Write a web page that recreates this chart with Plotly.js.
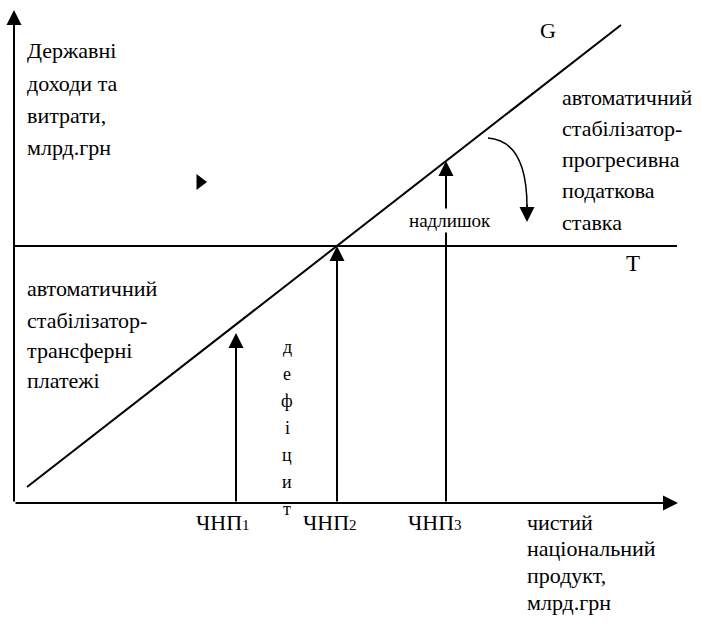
<!DOCTYPE html>
<html>
<head>
<meta charset="utf-8">
<script src="https://cdn.plot.ly/plotly-3.0.1.min.js"></script>
<style>html,body{margin:0;padding:0;background:#fff;}</style>
</head>
<body>
<div id="chart"></div>
<script>
// ---- data (diagram units; origin at the axes' intersection) ----
var gLineX = [13, 607];          // government spending/revenue line G
var gLineY = [16, 478];
var tLevelX = [0, 663];          // level line T
var tLevelY = [257, 257];
var nnpLabels = ["ЧНП<span style='font-size:15px'>1</span>", "ЧНП<span style='font-size:15px'>2</span>", "ЧНП<span style='font-size:15px'>3</span>"];
var nnpX = [222, 323, 432];      // positions of ЧНП1..3
var nnpTop = [170, 257, 342];    // heights reached by the vertical arrows
var nnpLabelX = [209, 316, 421];
var yAxisTop = 493;
var xAxisEnd = 664;
var markerX = [186];
var markerY = [321];
var yTitleLines = ["Державні", "доходи та", "витрати,", "млрд.грн"];
var xTitleLines = ["чистий", "національний", "продукт,", "млрд.грн"];
var leftNoteLines = ["автоматичний", "стабілізатор-", "трансферні", "платежі"];
var rightNoteLines = ["автоматичний", "стабілізатор-", "прогресивна", "податкова", "ставка"];
var deficitLetters = ["д", "е", "ф", "і", "ц", "и", "т"];

var FONT = "Liberation Serif";
var annotations = [];
function txt(t, x, y, size, xanchor, extra) {
  var a = {text: t, x: x, y: y, xref: 'x', yref: 'y', showarrow: false,
    xanchor: xanchor || 'left', yanchor: 'middle',
    font: {family: FONT, size: size, color: '#000'}};
  if (extra) for (var k in extra) a[k] = extra[k];
  annotations.push(a);
}
function arrow(x0, y0, x1, y1, w, s) {
  annotations.push({x: x1, y: y1, ax: x0, ay: y0, xref: 'x', yref: 'y', axref: 'x', ayref: 'y',
    showarrow: true, arrowhead: 2, arrowsize: s || 1.5, arrowwidth: w || 2, arrowcolor: '#000',
    standoff: 0, text: ''});
}
// axes
arrow(0, 0, 0, yAxisTop, 2, 1.5);
arrow(0, 0, xAxisEnd, 0, 2, 1.5);
// vertical arrows
for (var i = 0; i < nnpX.length; i++) {
  arrow(nnpX[i], 0, nnpX[i], nnpTop[i], 2, 1.5);
  txt(nnpLabels[i], nnpLabelX[i], -19, 22, 'center');
}
// curved-arrow head
arrow(513, 300, 513, 281, 1.5, 2);

// text
txt("G", 534, 473, 22, 'center');
txt("T", 619, 240, 23, 'center');
var yT = [453, 420, 388, 356];
yTitleLines.forEach(function (t, k) { txt(t, 11, yT[k], 22); });
var lN = [215, 183, 153, 123];
leftNoteLines.forEach(function (t, k) { txt(t, 11, lN[k], 22); });
var rN = [406, 375, 344, 313, 281];
rightNoteLines.forEach(function (t, k) { txt(t, 546, rN[k], 22); });
var xT = [-19, -45, -72, -99];
xTitleLines.forEach(function (t, k) { txt(t, 511, xT[k], 22); });
var dY = [156, 129, 102, 75, 48, 21, -6];
deficitLetters.forEach(function (t, k) { txt(t, 273, dY[k], 18, 'center'); });
txt("надлишок", 436, 283, 19, 'center', {bgcolor: '#fff', borderpad: 1});

var traces = [
  {x: gLineX, y: gLineY, mode: 'lines', line: {color: '#000', width: 2}, hoverinfo: 'skip'},
  {x: tLevelX, y: tLevelY, mode: 'lines', line: {color: '#000', width: 2}, hoverinfo: 'skip'},
  {x: markerX, y: markerY, mode: 'markers', marker: {symbol: 'triangle-right', size: 14, color: '#000'}, hoverinfo: 'skip'}
];

var layout = {
  width: 702, height: 629,
  margin: {l: 0, r: 0, t: 0, b: 0},
  paper_bgcolor: '#fff', plot_bgcolor: '#fff',
  font: {family: FONT},
  showlegend: false,
  xaxis: {range: [-14, 688], visible: false, fixedrange: true},
  yaxis: {range: [-126, 503], visible: false, fixedrange: true},
  annotations: annotations,
  shapes: [
    {type: 'path', xref: 'x', yref: 'y', path: 'M474,365 Q513,362 513,296',
     line: {color: '#000', width: 1.5}}
  ]
};
Plotly.newPlot('chart', traces, layout, {staticPlot: true, displayModeBar: false});
</script>
</body>
</html>
